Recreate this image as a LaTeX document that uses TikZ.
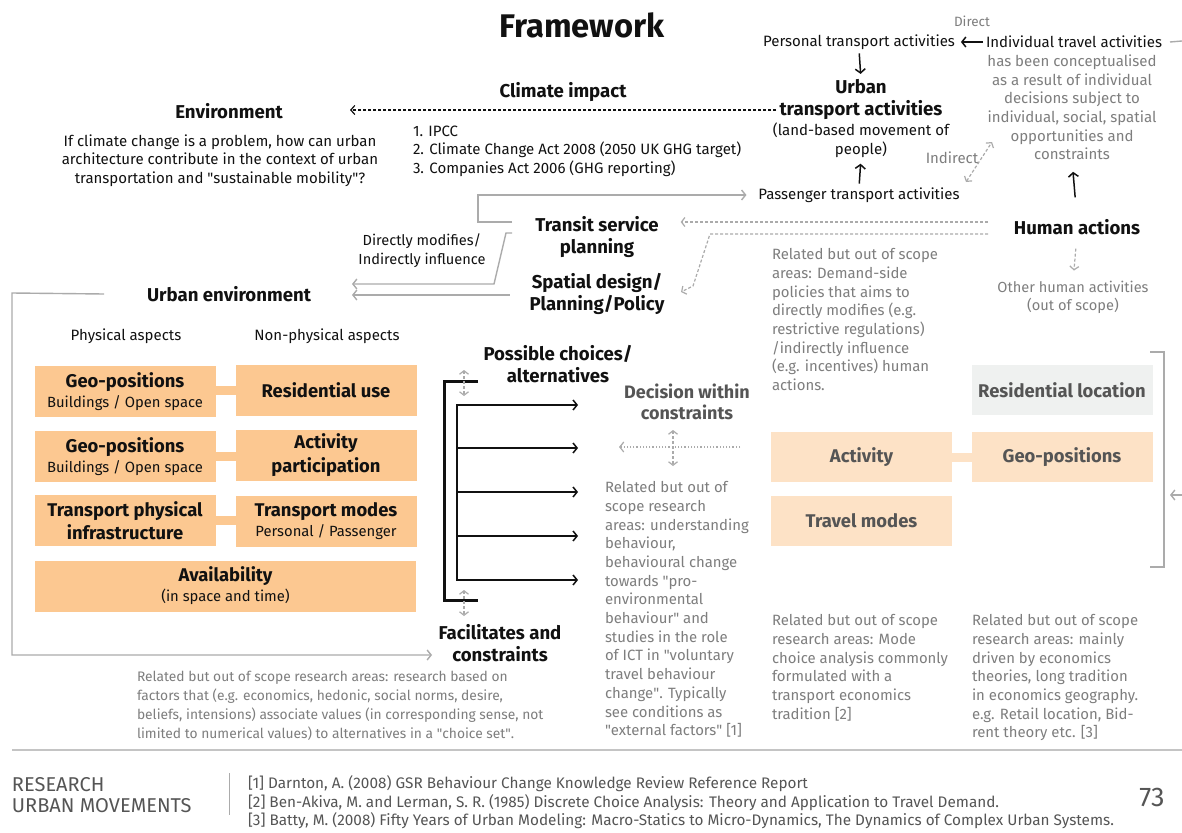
\documentclass[tikz,border=0pt]{standalone}
\usepackage{fontspec}
\setmainfont{Fira Sans}
% same face without the TeX input mapping, so that " stays a straight quote
\newfontfamily\plainquotes{Fira Sans}
\usetikzlibrary{arrows.meta,calc}

\newcommand\straightq{{\plainquotes"}}

\definecolor{ink}{HTML}{111111}
\definecolor{softgray}{HTML}{7E7E7E}
\definecolor{deepgray}{HTML}{555555}
\definecolor{linegray}{HTML}{ABABAB}
\definecolor{orangebox}{HTML}{FCC891}
\definecolor{paleorange}{HTML}{FDE2C6}
\definecolor{palegray}{HTML}{EFF1F0}

\tikzset{
  plain/.style={inner sep=0pt, outer sep=0pt},
  body/.style={plain, font=\fontsize{15}{18.6}\selectfont, text=ink, align=center},
  note/.style={plain, font=\fontsize{14.9}{18.7}\selectfont, text=softgray, align=left, anchor=north west},
  head/.style={plain, font=\bfseries\fontsize{18.6}{22}\selectfont, text=ink, align=center},
  aspect/.style={fill=orangebox, minimum width=181pt, minimum height=51pt, plain, align=center, text=ink, font=\fontsize{14.8}{20}\selectfont},
  choicebox/.style={minimum width=181pt, minimum height=50pt, plain, align=center, text=deepgray, font=\bfseries\fontsize{18.4}{22}\selectfont},
  garrow/.style={draw=linegray, line width=1.4pt, -{Straight Barb[length=4pt,width=10pt]}},
  gline/.style={draw=linegray, line width=1.4pt},
  gdash/.style={draw=linegray, line width=1.2pt, dash pattern=on 3pt off 2pt, -{Straight Barb[length=3.5pt,width=9pt]}},
  gboth/.style={draw=linegray, line width=1.2pt, dash pattern=on 3pt off 2pt, {Straight Barb[length=3.5pt,width=9pt]}-{Straight Barb[length=3.5pt,width=9pt]}},
  karrow/.style={draw=ink, line width=1.5pt, -{Straight Barb[length=4pt,width=10pt]}},
}

\begin{document}
\begin{tikzpicture}[x=1pt,y=-1pt]
\useasboundingbox[fill=white] (0,0) rectangle (1182,832);

% ---------- heading ----------
\node[plain, font=\bfseries\fontsize{32.7}{38}\selectfont, text=ink] (title) at (582,25) {Framework};

% ---------- transport activities ----------
\node[body, text=softgray, font=\fontsize{13.5}{16}\selectfont] (direct) at (972,21) {Direct};
\node[body] (personal) at (859,42) {Personal transport activities};
\node[body] (indiv) at (1074,42) {Individual travel activities};
\node[body, text=softgray, anchor=north] (concept) at (1072,55)
  {has been conceptualised\\as a result of individual\\decisions subject to\\individual, social, spatial\\opportunities and\\constraints};
\node[head] (urbanT) at (861,100) {Urban\\transport activities};
\node[body] (urbanS) at (861,140.5) {(land-based movement of\\people)};
\node[body] (passenger) at (859,195) {Passenger transport activities};
\node[body, text=softgray] (indirect) at (952,158) {Indirect};

\coordinate (stubR) at (1182,41);
\draw[gline] ([xshift=8pt]indiv.east) -- (stubR);
\draw[karrow, shorten <=3pt, shorten >=6pt] (indiv.west) -- (personal.east);
\draw[karrow, shorten <=4pt, shorten >=6pt] (personal.south) -- (urbanT.north);
\draw[karrow, shorten <=4pt, shorten >=6pt] (passenger.north) -- (urbanS.south);
\coordinate (indA) at (966,182);
\coordinate (indB) at (992,142);
\draw[gboth] (indA) -- (indB);

% ---------- climate impact ----------
\node[head] (climate) at (563,92) {Climate impact};
\node[head] (env) at (229,111) {Environment};
\node[body, anchor=north] (question) at (220,134.5)
  {If climate change is a problem, how can urban\\architecture contribute in the context of urban\\transportation and \straightq sustainable mobility\straightq?};
\node[body, align=left, anchor=north west] (acts) at (413,125.5)
  {1. IPCC\\2. Climate Change Act 2008 (2050 UK GHG target)\\3. Companies Act 2006 (GHG reporting)};
\coordinate (climS) at (776,110);
\coordinate (climE) at (350,110);
\draw[draw=ink, line width=1.2pt, dash pattern=on 3pt off 2pt, -{Straight Barb[length=4pt,width=9pt]}] (climS) -- (climE);

% ---------- planning ----------
\node[head] (transit) at (597,237) {Transit service\\planning};
\node[head] (spatial) at (597,294) {Spatial design/\\Planning/Policy};
\node[body, font=\fontsize{14.6}{19}\selectfont] (modlabel) at (422,250.5) {Directly modifies/\\Indirectly influence};
\node[head] (urbanenv) at (229,294) {Urban environment};

\coordinate (tA) at (512,222);
\draw[garrow] (tA) -- (478,222) -- (478,195) -- ([xshift=-12pt]passenger.west);
\coordinate (tB) at (512,233);
\coordinate (ueA) at (352,284);
\coordinate (ueB) at (352,295);
\draw[garrow] (tB) -- (506,233) -- (494,284) -- (ueA);
\draw[garrow] ([xshift=-20pt]spatial.west |- ueB) -- (ueB);

% ---------- human actions ----------
\node[head] (human) at (1077,227) {Human actions};
\node[body, text=softgray, font=\fontsize{14.6}{17.5}\selectfont] (other) at (1073,297.5) {Other human activities\\(out of scope)};
\draw[karrow, shorten <=22pt, shorten >=12pt] (human.north) -- (concept.south);
\draw[gdash, shorten <=14pt, shorten >=11pt] (human.south) -- (other.north);
\coordinate (hA) at (988,222);
\coordinate (hB) at (988,234);
\draw[gdash] (hA) -- ([xshift=22pt]transit.east |- hA);
\draw[gdash] (hB) -- (710,234) -- (693,286) -- (681,292);

\node[note] (policy) at (772,248.5)
  {Related but out of scope\\areas: Demand-side\\policies that aims to\\directly modifies (e.g.\\restrictive regulations)\\/indirectly influence\\(e.g. incentives) human\\actions.};

% ---------- aspects of the urban environment ----------
\node[body] (phys) at (126,336) {Physical aspects};
\node[body] (nonphys) at (327,336) {Non-physical aspects};

\fill[orangebox] (215,386) rectangle (236,395);
\fill[orangebox] (215,452) rectangle (236,461);
\fill[orangebox] (215,516) rectangle (236,525);
\node[aspect] (geoA) at (125,391.5) {{\bfseries\fontsize{18.4}{20}\selectfont Geo-positions}\\Buildings / Open space};
\node[aspect, font=\bfseries\fontsize{18.4}{22}\selectfont] (resuse) at (326,390.5) {Residential use};
\node[aspect] (geoB) at (125,456.5) {{\bfseries\fontsize{18.4}{20}\selectfont Geo-positions}\\Buildings / Open space};
\node[aspect, font=\bfseries\fontsize{18.4}{24}\selectfont] (actpart) at (326,455.5) {Activity\\participation};
\node[aspect, font=\bfseries\fontsize{18.4}{23}\selectfont] (infra) at (125,520.5) {Transport physical\\infrastructure};
\node[aspect] (modes) at (326,521) {{\bfseries\fontsize{18.4}{20}\selectfont Transport modes}\\Personal / Passenger};
\node[aspect, minimum width=381pt] (avail) at (225.5,586) {{\bfseries\fontsize{18.4}{20}\selectfont Availability}\\(in space and time)};

\coordinate (loopA) at (12,293);
\coordinate (loopB) at (12,655);
\coordinate (loopC) at (432,655);
\draw[garrow] ([xshift=-43pt]urbanenv.west) -- (loopA) -- (loopB) -- (loopC);

% ---------- choices ----------
\node[head] (choices) at (558,364) {Possible choices/\\alternatives};
\node[head] (facil) at (500,643.5) {Facilitates and\\constraints};

\draw[ink, line width=3pt] (478,381) -- (444,381) -- (444,600) -- (478,600);
\draw[ink, line width=1.8pt] (457,404) -- (457,581);
\foreach \yy/\nm in {405/chA,448/chB,492/chC,536/chD,580/chE}{
  \coordinate (\nm s) at (457,\yy);
  \coordinate (\nm e) at (578,\yy);
  \draw[karrow] (\nm s) -- (\nm e);
}
\coordinate (upA) at (464,370);
\coordinate (upB) at (464,396);
\coordinate (dnA) at (464,590);
\coordinate (dnB) at (464,616);
\draw[gboth] (upA) -- (upB);
\draw[gboth] (dnA) -- (dnB);

\node[plain, align=center, text=deepgray, font=\bfseries\fontsize{18}{21}\selectfont] (decision) at (687,401.5) {Decision within\\constraints};
\coordinate (decA) at (740,447);
\coordinate (decB) at (619,447);
\draw[draw=linegray, line width=1.2pt, dotted, -{Straight Barb[length=4pt,width=10pt]}] (decA) -- (decB);
\coordinate (decU) at (673,430);
\coordinate (decD) at (673,466);
\draw[gboth] (decU) -- (decD);

\node[note] (behav) at (605,481.5)
  {Related but out of\\scope research\\areas: understanding\\behaviour,\\behavioural change\\towards \straightq pro-\\environmental\\behaviour\straightq\ and\\studies in the role\\of ICT in \straightq voluntary\\travel behaviour\\change\straightq. Typically\\see conditions as\\\straightq external factors\straightq\ [1]};

% ---------- individual choice set ----------
\fill[paleorange] (952,453) rectangle (972,462);
\node[choicebox, fill=palegray] (resloc) at (1062,390) {Residential location};
\node[choicebox, fill=paleorange] (activity) at (861.5,457) {Activity};
\node[choicebox, fill=paleorange] (geoC) at (1062,457) {Geo-positions};
\node[choicebox, fill=paleorange] (travel) at (861.5,521) {Travel modes};

\draw[gline] (1150,352) -- (1164,352) -- (1164,567) -- (1150,567);
\coordinate (brA) at (1182,495);
\coordinate (brB) at (1170,495);
\draw[garrow] (brA) -- (brB);

\node[note] (modenote) at (772,614.5)
  {Related but out of scope\\research areas: Mode\\choice analysis commonly\\formulated with a\\transport economics\\tradition [2]};
\node[note] (econnote) at (972,614.5)
  {Related but out of scope\\research areas: mainly\\driven by economics\\theories, long tradition\\in economics geography.\\e.g. Retail location, Bid-\\rent theory etc. [3]};
\node[note, font=\fontsize{13.8}{19}\selectfont] (choicenote) at (137,671)
  {Related but out of scope research areas: research based on\\factors that (e.g. economics, hedonic, social norms, desire,\\beliefs, intensions) associate values (in corresponding sense, not\\limited to numerical values) to alternatives in a \straightq choice set\straightq.};

% ---------- footer ----------
\coordinate (ruleA) at (12,750);
\coordinate (ruleB) at (1182,750);
\draw[draw=linegray!70, line width=2pt] (ruleA) -- (ruleB);
\node[plain, anchor=west, text=deepgray, font=\fontsize{20}{24}\selectfont] (research) at (12,785) {RESEARCH};
\node[plain, anchor=west, text=deepgray, font=\fontsize{20}{24}\selectfont] (urbmov) at (12,806) {URBAN MOVEMENTS};
\coordinate (sepA) at (229,773);
\coordinate (sepB) at (229,815);
\draw[draw=linegray, line width=1pt] (sepA) -- (sepB);
\node[plain, anchor=north west, align=left, text=deepgray, font=\fontsize{15.3}{18.5}\selectfont] (refs) at (248,776)
  {{[1]} Darnton, A. (2008) GSR Behaviour Change Knowledge Review Reference Report\\
   {[2]} Ben-Akiva, M. and Lerman, S. R. (1985) Discrete Choice Analysis: Theory and Application to Travel Demand.\\
   {[3]} Batty, M. (2008) Fifty Years of Urban Modeling: Macro-Statics to Micro-Dynamics, The Dynamics of Complex Urban Systems.};
\node[plain, text=deepgray, font=\fontsize{27}{30}\selectfont] (page) at (1152,797) {73};
\end{tikzpicture}
\end{document}
